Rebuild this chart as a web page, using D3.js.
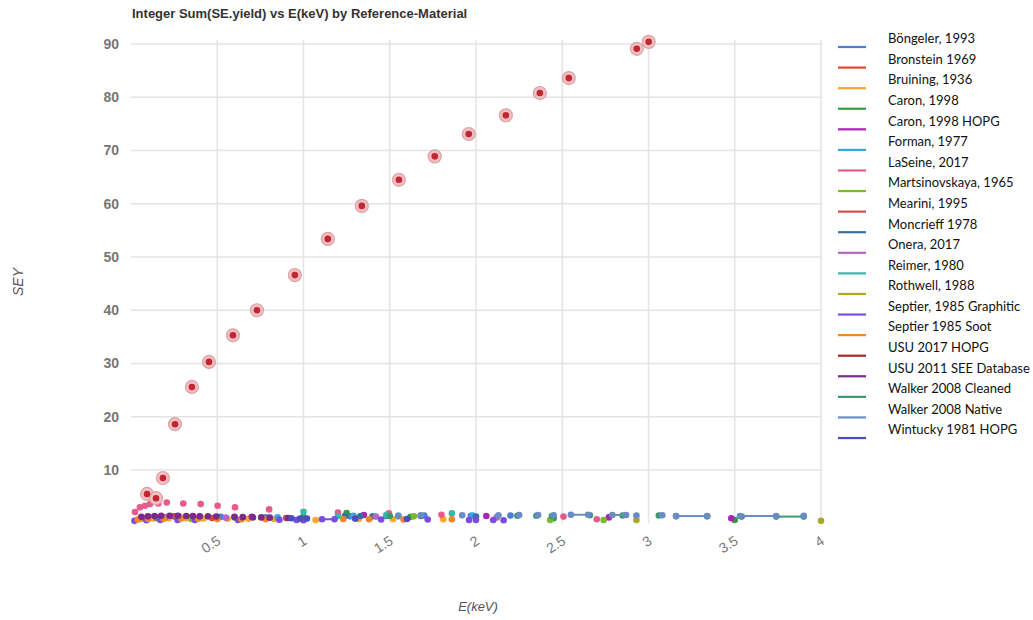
<!DOCTYPE html>
<html><head><meta charset="utf-8">
<script src="https://cdn.jsdelivr.net/npm/d3@7"></script>
<style>body{margin:0;background:#fff}svg{display:block}</style>
</head><body><svg id="c" width="1033" height="620"></svg>
<script>
const title = "Integer Sum(SE.yield) vs E(keV) by Reference-Material";
const xTicks = [0.5, 1, 1.5, 2, 2.5, 3, 3.5, 4];
const xTickLabels = ["0.5", "1", "1.5", "2", "2.5", "3", "3.5", "4"];
const yTicks = [10, 20, 30, 40, 50, 60, 70, 80, 90];
const yTickLabels = ["10", "20", "30", "40", "50", "60", "70", "80", "90"];

const seriesNames = ["Böngeler, 1993","Bronstein  1969","Bruining, 1936","Caron, 1998","Caron, 1998 HOPG","Forman, 1977","LaSeine, 2017","Martsinovskaya, 1965","Mearini, 1995","Moncrieff 1978","Onera, 2017","Reimer, 1980","Rothwell, 1988","Septier, 1985 Graphitic","Septier 1985 Soot","USU 2017 HOPG","USU 2011 SEE Database","Walker 2008 Cleaned","Walker 2008 Native","Wintucky 1981 HOPG"];
const seriesColors = ["#4a7fd6","#e8452c","#f9a825","#2e9e3e","#a825b0","#35a8dc","#e75a8a","#7cb82f","#cc5252","#3a6ea5","#b565c2","#36b8a8","#aaaa22","#7a4de0","#f0862a","#a52a2a","#7b2a8a","#3a9a6a","#6a8cc4","#4b4cc0"];

// USU 2017 HOPG integer sums (highlighted)
const usuHopgEnergy = [0.093,0.145,0.185,0.255,0.353,0.452,0.591,0.730,0.950,1.141,1.338,1.553,1.761,1.958,2.173,2.370,2.538,2.932,3.001];
const usuHopgSEY = [5.5,4.7,8.5,18.6,25.6,30.3,35.3,40.0,46.6,53.4,59.6,64.5,68.9,73.1,76.6,80.8,83.6,89.1,90.4];

// other series: runs of [E, SEY]; a run of >1 point is joined by a line
const bongeler = [[[0.12,1.1]],[[0.28,1.25]],[[0.52,1.2]],[[0.78,1.1]],[[1.0,1.0]],[[1.27,1.3]],[[1.48,1.35]],[[1.7,1.45]],[[1.97,1.4]],[[2.2,1.45]]];
const bronstein = [[[0.07,0.9]],[[0.18,1.0]],[[0.33,1.05]],[[0.47,1.0]]];
const bruining = [[[0.05,0.8]],[[0.13,0.9]],[[0.22,0.95]],[[0.32,0.95]],[[0.42,0.9]],[[0.56,0.85]],[[0.68,0.85]],[[0.83,0.8]],[[1.07,0.6]],[[1.32,0.8]],[[1.52,0.8]],[[1.81,0.75]]];
const caron = [[[0.15,1.0]],[[0.6,1.1]],[[1.0,1.2]],[[1.25,1.9]],[[1.62,1.2]],[[2.45,0.95]],[[3.5,0.6]]];
const caronHopg = [[[0.25,1.3]],[[0.7,1.2]],[[1.35,1.55]],[[2.06,1.36]],[[2.77,1.1]],[[3.48,0.95]]];
const forman = [[[0.4,1.2]],[[0.85,1.1]],[[1.29,1.4]],[[1.55,1.3]],[[1.98,1.45]]];
const laseine = [[[0.023,2.1]],[[0.052,3.0]],[[0.081,3.3]],[[0.110,3.6]],[[0.158,3.7]],[[0.207,3.9]],[[0.303,3.7]],[[0.404,3.6]],[[0.502,3.3]],[[0.603,3.0]],[[0.801,2.6]],[[1.2,2.0]],[[1.495,1.85]],[[1.8,1.6]],[[2.507,1.25]],[[2.70,0.75]]];
const martsinovskaya = [[[0.35,0.8]],[[1.64,1.3]],[[2.43,0.6]],[[2.74,0.6]]];
const mearini = [[[0.1,1.15]],[[0.26,1.2]],[[0.9,1.0]]];
const moncrieff = [[[0.5,1.15]],[[1.24,1.35]],[[1.33,1.35]],[[1.4,1.3]],[[1.68,1.35]],[[2.0,1.25]]];
const onera = [[[0.2,1.1]],[[0.55,1.05]],[[1.42,1.25]],[[2.12,1.1]]];
const reimer = [[[1.0,2.15]],[[1.2,1.36]],[[1.48,1.55]],[[1.86,1.85]]];
const rothwell = [[[1.3,0.9]],[[2.93,0.6]],[[4.0,0.45]]];
const septierGraphitic = [[[0.02,0.45]],[[0.09,0.55]],[[0.17,0.6]],[[0.27,0.6]],[[0.37,0.6]],[[0.62,0.6]],[[0.86,0.65]],[[0.96,0.6]],[[1.0,0.55]],[[1.107,0.75],[1.18,0.75]],[[1.45,0.7]],[[1.72,0.7]],[[1.96,0.6]],[[2.0,0.6]],[[2.1,0.6]],[[2.16,0.55]]];
const septierSoot = [[[0.04,0.7]],[[0.1,0.8]],[[0.19,0.85]],[[0.29,0.9]],[[0.39,0.85]],[[0.5,0.8]],[[0.64,0.75]],[[0.78,0.75]],[[1.23,0.8]],[[1.38,0.75]],[[1.58,0.7]],[[1.86,0.75]]];
const usu2011 = [[[0.06,1.2]],[[0.098,1.3]],[[0.137,1.35]],[[0.175,1.4]],[[0.224,1.4]],[[0.272,1.4]],[[0.32,1.35]],[[0.359,1.35]],[[0.398,1.3]],[[0.446,1.3]],[[0.494,1.25]],[[0.60,1.2]],[[0.648,1.15]],[[0.707,1.1]],[[0.755,1.1]],[[0.804,1.05]],[[0.91,1.0]]];
const walkerCleaned = [[[1.5,1.35]],[[2.24,1.4]],[[2.35,1.4]],[[2.44,1.35]],[[2.66,1.5]],[[2.85,1.45]],[[3.06,1.45]],[[3.16,1.3]],[[3.34,1.3]],[[3.54,1.25]],[[3.74,1.25],[3.9,1.25]]];
const walkerNative = [[[1.55,1.45]],[[1.68,1.5]],[[1.92,1.5]],[[2.13,1.5]],[[2.25,1.55]],[[2.36,1.55]],[[2.45,1.5]],[[2.55,1.6],[2.65,1.6]],[[2.79,1.55],[2.87,1.55]],[[2.93,1.45]],[[3.08,1.5]],[[3.16,1.35],[3.34,1.35]],[[3.53,1.35],[3.74,1.35]],[[3.9,1.4]]];
const wintucky = [[[0.93,0.95]],[[0.98,0.9]],[[1.02,0.9]],[[1.3,0.9]],[[1.6,0.8]]];

const seriesRuns = [bongeler,bronstein,bruining,caron,caronHopg,forman,laseine,martsinovskaya,mearini,moncrieff,onera,reimer,rothwell,septierGraphitic,septierSoot,[],usu2011,walkerCleaned,walkerNative,wintucky];

const svg = d3.select("#c");
const x = d3.scaleLinear().domain([0, 4]).range([131, 821]);
const y = d3.scaleLinear().domain([0, 90]).range([523.25, 44]);

svg.append("text").attr("x", 132).attr("y", 18).text(title)
  .attr("font-family", "Liberation Sans, Arial, sans-serif").attr("font-weight", "bold")
  .attr("font-size", 13).attr("fill", "#333");

// gridlines
const grid = svg.append("g");
grid.selectAll("line.v").data(xTicks).join("line")
  .attr("x1", d => x(d)).attr("x2", d => x(d)).attr("y1", 40).attr("y2", y(0))
  .attr("stroke", "#e4e4e4").attr("stroke-width", 1.5);
grid.selectAll("line.h").data(yTicks).join("line")
  .attr("x1", x(0)).attr("x2", 822).attr("y1", d => y(d)).attr("y2", d => y(d))
  .attr("stroke", "#e4e4e4").attr("stroke-width", 1.5);

// y axis
const yAxis = d3.axisLeft(y).tickValues(yTicks).tickFormat((d,i) => yTickLabels[i]).tickSize(0).tickPadding(12);
const ya = svg.append("g").attr("transform", `translate(${x(0)},0)`).call(yAxis);
ya.select(".domain").remove();
ya.selectAll("text").attr("font-family", "Liberation Sans, Arial, sans-serif").attr("font-size", 14)
  .attr("font-weight", "bold").attr("fill", "#777");

// x axis
const xAxis = d3.axisBottom(x).tickValues(xTicks).tickFormat((d,i) => xTickLabels[i]).tickSize(0);
const xa = svg.append("g").attr("transform", `translate(0,${y(0)})`).call(xAxis);
xa.select(".domain").remove();
xa.selectAll("text").attr("font-family", "Liberation Sans, Arial, sans-serif").attr("font-size", 14)
  .attr("fill", "#777").attr("text-anchor", "end").attr("dy", null).attr("y", 0)
  .attr("dominant-baseline", "middle")
  .attr("transform", "translate(2,17) rotate(-32)");

svg.append("text").attr("x", 478).attr("y", 611).attr("text-anchor", "middle").text("E(keV)")
  .attr("font-family", "Liberation Sans, Arial, sans-serif").attr("font-style", "italic")
  .attr("font-size", 13).attr("fill", "#555");
svg.append("text").attr("transform", "translate(23,282) rotate(-90)").attr("text-anchor", "middle").text("SEY")
  .attr("font-family", "Liberation Sans, Arial, sans-serif").attr("font-style", "italic")
  .attr("font-size", 14).attr("fill", "#555");

// low series
const line = d3.line().x(d => x(d[0])).y(d => y(d[1]));
const plot = svg.append("g");
seriesRuns.forEach((runs, i) => {
  const g = plot.append("g");
  g.selectAll("path").data(runs.filter(r => r.length > 1)).join("path")
    .attr("d", line).attr("fill", "none").attr("stroke", seriesColors[i]).attr("stroke-width", 2);
  g.selectAll("circle").data(runs.flat()).join("circle")
    .attr("cx", d => x(d[0])).attr("cy", d => y(d[1])).attr("r", 3.3)
    .attr("fill", seriesColors[i]);
});

// highlighted integer sums
const hi = svg.append("g");
const pts = usuHopgEnergy.map((e, i) => [e, usuHopgSEY[i]]);
hi.selectAll("circle.halo").data(pts).join("circle").attr("class", "halo")
  .attr("cx", d => x(d[0])).attr("cy", d => y(d[1])).attr("r", 6.5)
  .attr("fill", "#edc0c3").attr("stroke", "#dea2a7").attr("stroke-width", 1.2);
hi.selectAll("circle.core").data(pts).join("circle").attr("class", "core")
  .attr("cx", d => x(d[0])).attr("cy", d => y(d[1])).attr("r", 3.3)
  .attr("fill", "#c4262f");

// legend
const lg = svg.append("g");
const rows = lg.selectAll("g").data(seriesNames).join("g")
  .attr("transform", (d, i) => `translate(0,${40 + i * 20.58})`);
rows.append("line").attr("x1", 838).attr("x2", 866).attr("y1", 7).attr("y2", 7)
  .attr("stroke", (d, i) => seriesColors[i]).attr("stroke-width", 2.2);
rows.append("text").attr("x", 888).attr("y", 0).attr("dominant-baseline", "middle").text(d => d)
  .attr("font-family", "Lato, 'Open Sans', sans-serif").attr("font-size", 13).attr("fill", "#111");
</script></body></html>
